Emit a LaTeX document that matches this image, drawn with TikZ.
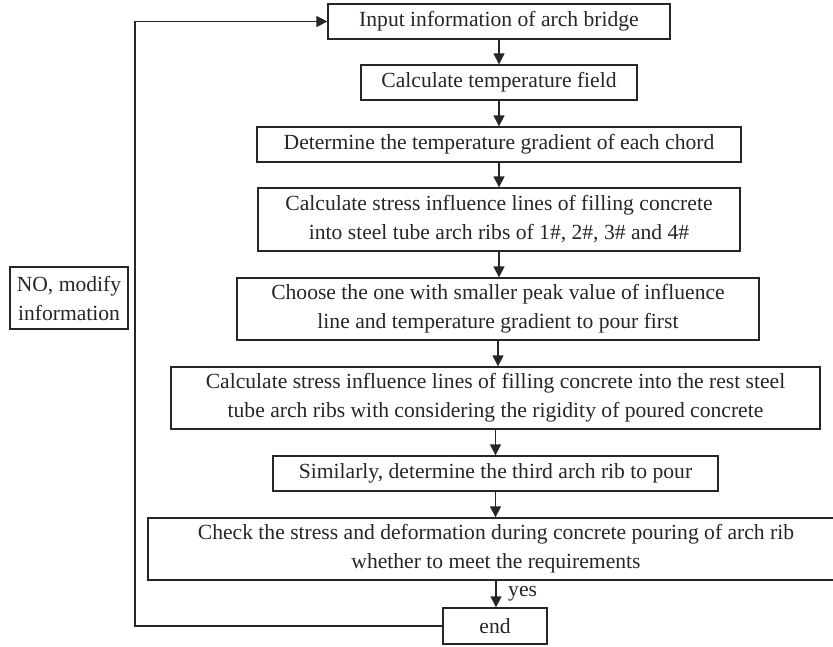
\documentclass[tikz,border=0pt]{standalone}
\usepackage{fontspec}
\setmainfont{Liberation Serif}
\usetikzlibrary{arrows.meta}
\begin{document}
\begin{tikzpicture}[x=1pt,y=-1pt,
  every node/.style={font=\fontsize{21.6}{29}\selectfont, text=black!85},
  fbox/.style={draw=black!85, line width=1.3pt, inner sep=0pt, align=center},
  arr/.style={draw=black!85, line width=1.3pt, -{Triangle[length=11pt,width=11pt]}},
  ln/.style={draw=black!85, line width=1.3pt}]
\clip (0,0) rectangle (833,646);
\node[fbox, minimum width=342, minimum height=35] (b1) at (499,21.5) {Input information of arch bridge};
\node[fbox, minimum width=276, minimum height=35] (b2) at (499,82.5) {Calculate temperature field};
\node[fbox, minimum width=484, minimum height=35] (b3) at (499,144.5) {Determine the temperature gradient of each chord};
\node[fbox, minimum width=482, minimum height=63] (b4) at (499,219.5) {Calculate stress influence lines of filling concrete\\into steel tube arch ribs of 1\#, 2\#, 3\# and 4\#};
\node[fbox, minimum width=522, minimum height=62] (b5) at (498,309) {Choose the one with smaller peak value of influence\\line and temperature gradient to pour first};
\node[fbox, minimum width=649, minimum height=62] (b6) at (495.5,398) {Calculate stress influence lines of filling concrete into the rest steel\\tube arch ribs with considering the rigidity of poured concrete};
\node[fbox, minimum width=445, minimum height=35] (b7) at (495.5,473.5) {Similarly, determine the third arch rib to pour};
\node[fbox, minimum width=696, minimum height=62] (b8) at (496,549) {Check the stress and deformation during concrete pouring of arch rib\\whether to meet the requirements};
\node[fbox, minimum width=104, minimum height=36] (end) at (495,626) {end};
\node[fbox, minimum width=118, minimum height=62] (no) at (69,298) {NO, modify\\information};
\node[anchor=west, inner sep=0pt] (yes) at (508,594) {yes};
\coordinate (lx) at (135,0);
\draw[arr] (b1.south) -- (b1.south |- b2.north);
\draw[arr] (b2.south) -- (b2.south |- b3.north);
\draw[arr] (b3.south) -- (b3.south |- b4.north);
\draw[arr] (b4.south) -- (b4.south |- b5.north);
\draw[arr] (b5.south) -- (b5.south |- b6.north);
\draw[arr] (b6.south) -- (b6.south |- b7.north);
\draw[arr] (b7.south) -- (b7.south |- b8.north);
\draw[arr] (b8.south) -- (b8.south |- end.north);
\draw[arr] (end.west) -- (end.west -| lx) -- (b1.west -| lx) -- (b1.west);
\end{tikzpicture}
\end{document}
